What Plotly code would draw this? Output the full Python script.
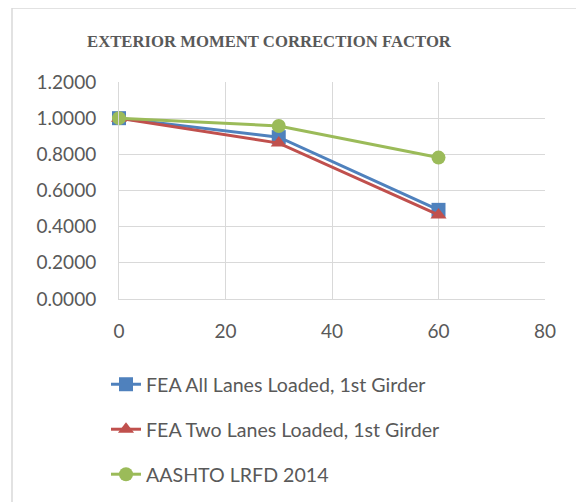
import plotly.graph_objects as go

skew = [0, 30, 60]
fea_all = [1.0000, 0.8950, 0.4930]
fea_two = [1.0000, 0.8620, 0.4650]
aashto = [1.0000, 0.9570, 0.7820]
names = ["FEA All Lanes Loaded, 1st Girder", "FEA Two Lanes Loaded, 1st Girder", "AASHTO LRFD 2014"]
x_ticks = [0, 20, 40, 60, 80]
y_ticks = [0, 0.2, 0.4, 0.6, 0.8, 1.0, 1.2]

colors = ["#4F81BD", "#C0504D", "#9BBB59"]
symbols = ["square", "triangle-up", "circle"]

fig = go.Figure()
for i, (vals, nm) in enumerate(zip([fea_all, fea_two, aashto], names)):
    fig.add_trace(go.Scatter(
        x=skew, y=vals, name=nm, mode="lines+markers",
        line=dict(color=colors[i], width=3),
        marker=dict(symbol=symbols[i], size=14, color=colors[i]),
        cliponaxis=False, legendgroup=f"g{i}",
    ))

OFF = 8  # page body margin
PL, PR, PT, PB = 119 - OFF, 545 - OFF, 82 - OFF, 299 - OFF
W, H = 576, 560
def px(x):
    return (x - OFF - PL) / (PR - PL)
def py(y):
    return (PB - (y - OFF)) / (PB - PT)

fig.update_layout(
    width=W, height=H,
    margin=dict(l=PL, r=W - PR, t=PT, b=H - PB),
    paper_bgcolor="white", plot_bgcolor="white",
    font=dict(family="Lato, 'Open Sans', sans-serif", color="#595959", size=19),
    showlegend=True,
    legend=dict(x=px(106), y=py(365), xanchor="left", yanchor="top",
                font=dict(size=19.6, color="#595959"), tracegroupgap=16.5,
                bgcolor="rgba(0,0,0,0)"),
    xaxis=dict(range=[0, 80], tickvals=x_ticks, showgrid=True, gridcolor="#D9D9D9",
               gridwidth=1, zeroline=False, showline=True, linecolor="#D9D9D9",
               ticks="outside", ticklen=15, tickcolor="rgba(0,0,0,0)",
               tickfont=dict(size=19, color="#595959"), mirror=False),
    yaxis=dict(range=[0, 1.2], tickvals=y_ticks, tickformat=".4f", showgrid=True,
               gridcolor="#D9D9D9", gridwidth=1, zeroline=False, showline=True,
               linecolor="#D9D9D9", ticks="outside", ticklen=18,
               tickcolor="rgba(0,0,0,0)", tickfont=dict(size=19, color="#595959")),
    annotations=[dict(text="<b>EXTERIOR MOMENT CORRECTION FACTOR</b>", xref="paper", yref="paper",
                      x=px(269), y=py(42), xanchor="center", yanchor="middle", showarrow=False,
                      font=dict(family="Liberation Serif, Times New Roman, serif", size=16.7, color="#595959"))],
    shapes=[dict(type="rect", xref="paper", yref="paper", x0=px(12), y0=py(620), x1=px(620), y1=py(8),
                 line=dict(color="#D9D9D9", width=1.5), layer="below")],
)

fig.write_html("out.html")
